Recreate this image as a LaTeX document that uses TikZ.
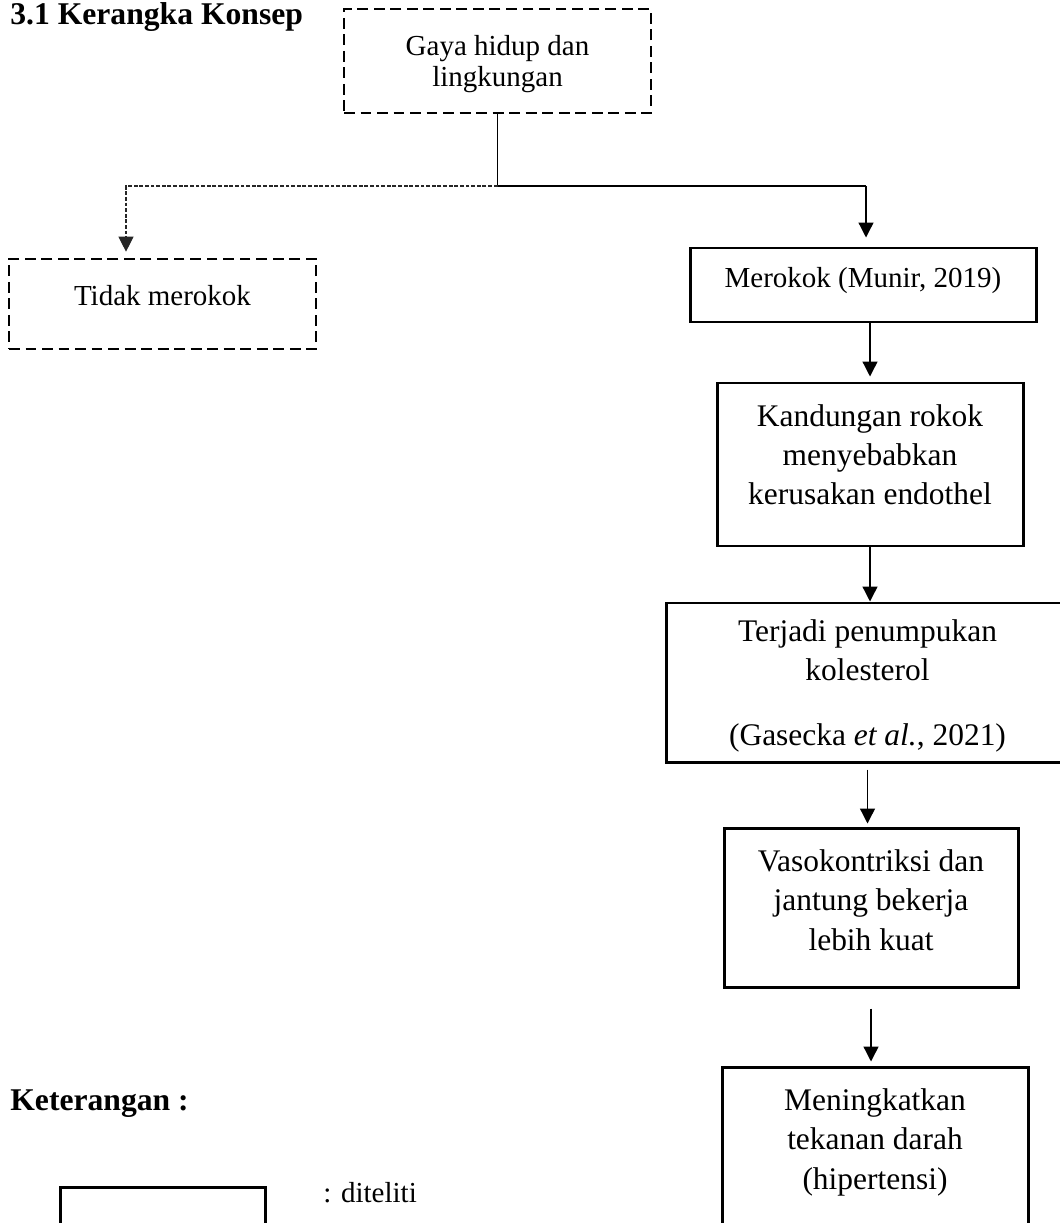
\documentclass[tikz,border=0pt]{standalone}
\usepackage{fontspec}
\setmainfont{Liberation Serif}
\usetikzlibrary{arrows.meta}

\begin{document}
\begin{tikzpicture}[
        solidbox/.style={draw, line width=1.7pt, align=center, inner sep=0pt,
            font=\fontsize{17.9}{22.4}\selectfont},
        dashbox/.style={draw, line width=1.5pt, dash pattern=on 6.2pt off 3.2pt,
            align=center, inner sep=0pt, font=\fontsize{16.5}{17.5}\selectfont},
        tip/.style={-{Triangle[length=0.3cm, width=0.3cm]}},
        arrow/.style={line width=0.75pt, tip},
        dotline/.style={line width=0.6pt, black!85, dash pattern=on 2.2pt off 1pt}
    ]
        % Page frame
        \useasboundingbox (0,0) rectangle (21.2,-24.46);

        % Headings
        \node[anchor=base west, inner sep=0pt, font=\fontsize{18}{20}\selectfont\bfseries] (title) at (0.2,-0.5) {3.1 Kerangka Konsep};
        \node[anchor=base west, inner sep=0pt, font=\fontsize{18}{20}\selectfont\bfseries] (ket) at (0.2,-22.2) {Keterangan :};

        % Define the boxes
        \node[dashbox, minimum width=6.14cm, minimum height=2.08cm, text depth=0pt] (gaya) at (9.95,-1.22) {Gaya hidup dan\\lingkungan};
        \node[dashbox, minimum width=6.14cm, minimum height=1.8cm, text depth=0.36cm] (tidak) at (3.25,-6.08) {Tidak merokok};
        \node[solidbox, font=\fontsize{16.5}{20}\selectfont, minimum width=6.92cm, minimum height=1.48cm, text depth=0.32cm] (merokok) at (17.26,-5.7) {Merokok (Munir, 2019)};
        \node[solidbox, minimum width=6.12cm, minimum height=3.26cm, text depth=0.4cm] (kandungan) at (17.4,-9.29) {Kandungan rokok\\menyebabkan\\kerusakan endothel};
        \node[solidbox, minimum width=8.06cm, minimum height=3.18cm, text depth=0pt] (terjadi) at (17.35,-13.65) {Terjadi penumpukan\\kolesterol\\[0.52cm](Gasecka \textit{et al.}, 2021)};
        \node[solidbox, minimum width=5.88cm, minimum height=3.18cm, text depth=0.3cm] (vaso) at (17.42,-18.15) {Vasokontriksi dan\\jantung bekerja\\lebih kuat};
        \node[solidbox, minimum width=6.12cm, minimum height=3.28cm, text depth=0.4cm] (mening) at (17.5,-22.98) {Meningkatkan\\tekanan darah\\(hipertensi)};

        % Legend
        \node[solidbox, anchor=north west, minimum width=4.1cm, minimum height=2cm] (legend) at (1.18,-23.72) {};
        \node[anchor=base west, inner sep=0pt, font=\fontsize{16.5}{20}\selectfont] (diteliti) at (6.46,-24.04) {: diteliti};

        % Branch below the first box
        \coordinate (rtop) at (17.32,-3.72);
        \coordinate (ltop) at (2.52,-3.72);
        \coordinate (split) at (gaya.south |- rtop);
        \draw[line width=0.75pt] (gaya.south) -- (split) -- (rtop);
        \draw[arrow, shorten >=0.18cm] (rtop) -- (rtop |- merokok.north);
        \draw[dotline, tip, shorten >=0.12cm] (split) -- (ltop) -- (ltop |- tidak.north);

        % Main chain
        \draw[arrow, shorten >=0.1cm] (kandungan.north |- merokok.south) -- (kandungan.north);
        \draw[arrow] (kandungan.south) -- (kandungan.south |- terjadi.north);
        \draw[arrow, shorten <=0.12cm, shorten >=0.06cm] (terjadi.south) -- (terjadi.south |- vaso.north);
        \draw[arrow, shorten <=0.4cm, shorten >=0.08cm] (vaso.south) -- (vaso.south |- mening.north);
\end{tikzpicture}
\end{document}
